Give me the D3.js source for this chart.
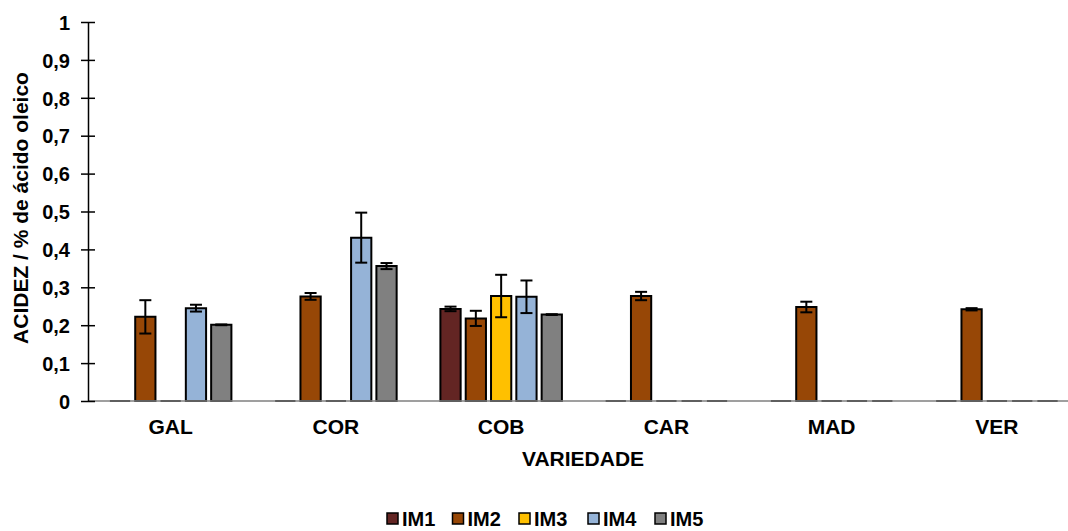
<!DOCTYPE html>
<html><head><meta charset="utf-8">
<script src="https://cdn.jsdelivr.net/npm/d3@7"></script>
<style>body{margin:0;background:#fff}svg{display:block}text{font-family:"Liberation Sans",Arial,sans-serif;font-weight:bold;fill:#000}</style>
</head><body><svg id="c" width="1068" height="531"></svg>
<script>
const categories = ["GAL","COR","COB","CAR","MAD","VER"];
const seriesNames = ["IM1","IM2","IM3","IM4","IM5"];
const seriesColors = ["#632523","#974706","#FFC000","#95B3D7","#808080"];
const IM1 = [0, 0, 0.243, 0, 0, 0];
const IM2 = [0.222, 0.276, 0.218, 0.277, 0.248, 0.242];
const IM3 = [0, 0, 0.277, 0, 0, 0];
const IM4 = [0.245, 0.431, 0.275, 0, 0, 0];
const IM5 = [0.201, 0.356, 0.228, 0, 0, 0];
const IM1err = [0, 0, 0.006, 0, 0, 0];
const IM2err = [0.044, 0.009, 0.020, 0.011, 0.014, 0.003];
const IM3err = [0, 0, 0.056, 0, 0, 0];
const IM4err = [0.009, 0.066, 0.043, 0, 0, 0];
const IM5err = [0.001, 0.008, 0.001, 0, 0, 0];
const yTicks = [0,0.1,0.2,0.3,0.4,0.5,0.6,0.7,0.8,0.9,1];
const yTitle = "ACIDEZ / % de ácido oleico";
const xTitle = "VARIEDADE";

(function(){
const values = [IM1, IM2, IM3, IM4, IM5];
const errs = [IM1err, IM2err, IM3err, IM4err, IM5err];
const svg = d3.select("#c");
const left = 88, base = 401, topY = 22, bandW = 165.25;
const x0 = d3.scaleBand().domain(categories).range([left, left + bandW*categories.length]).padding(0);
const x1 = d3.scaleBand().domain(seriesNames).range([21.9, 143.4]).paddingInner(0.2).paddingOuter(0);
const y = d3.scaleLinear().domain([0,1]).range([base, topY]);
const fmt = d => String(d).replace(".", ",");

const data = [];
categories.forEach((c, i) => seriesNames.forEach((s, j) => data.push({c, s, j, v: values[j][i], e: errs[j][i]})));
const g = svg.append("g");
g.selectAll("path.bar").data(data).join("path").attr("class","bar")
  .attr("d", d => { const x = x0(d.c) + x1(d.s), w = x1.bandwidth();
    return `M${x},${y(0)}V${y(d.v)}H${x+w}V${y(0)}Z`; })
  .attr("fill", d => seriesColors[d.j]).attr("stroke", "#000").attr("stroke-width", 2);

svg.append("line").attr("x1", left).attr("x2", 1068).attr("y1", y(0)).attr("y2", y(0))
  .attr("stroke", "#7f7f7f").attr("stroke-width", 1.5);

const eb = data.filter(d => d.v > 0 && d.e > 0);
const ex = d => x0(d.c) + x1(d.s) + x1.bandwidth()/2;
g.selectAll("line.ev").data(eb).join("line").attr("x1", ex).attr("x2", ex)
  .attr("y1", d => y(d.v + d.e)).attr("y2", d => y(d.v - d.e)).attr("stroke","#000").attr("stroke-width",2);
[1,-1].forEach(sgn => {
  g.append("g").selectAll("line").data(eb).join("line")
    .attr("x1", d => ex(d) - 6).attr("x2", d => ex(d) + 6)
    .attr("y1", d => y(d.v + sgn*d.e)).attr("y2", d => y(d.v + sgn*d.e))
    .attr("stroke","#000").attr("stroke-width",2);
});

const yAxis = d3.axisLeft(y).tickValues(yTicks).tickFormat(fmt).tickSizeInner(7).tickSizeOuter(0).tickPadding(5);
const ya = svg.append("g").attr("transform", `translate(${left},0)`).call(yAxis);
ya.select(".domain").attr("stroke","#000").attr("stroke-width",1.5);
ya.selectAll(".tick line").attr("stroke","#000").attr("stroke-width",1.5).attr("x2", 7).attr("x1", -7);
ya.selectAll(".tick text").style("font-size","20px").style("font-weight","bold").style("font-family","'Liberation Sans',Arial,sans-serif").attr("fill","#000").attr("x", -18).attr("dy","0.36em");

svg.append("g").selectAll("text").data(categories).join("text")
  .attr("x", d => x0(d) + x0.bandwidth()/2).attr("y", 434).attr("text-anchor","middle")
  .style("font-size","21px").text(d => d);

svg.append("text").attr("x", 583).attr("y", 466).attr("text-anchor","middle").style("font-size","21px").text(xTitle);
svg.append("text").attr("transform","translate(28,208) rotate(-90)").attr("text-anchor","middle").style("font-size","21px").text(yTitle);

const lg = svg.append("g");
const lx = [387, 452.5, 519, 588, 655];
seriesNames.forEach((s, j) => {
  lg.append("rect").attr("x", lx[j]).attr("y", 513).attr("width", 11).attr("height", 11)
    .attr("fill", seriesColors[j]).attr("stroke","#000").attr("stroke-width",1.5);
  lg.append("text").attr("x", lx[j] + 15).attr("y", 525.5).style("font-size","20px").text(s);
});
})();
</script></body></html>
